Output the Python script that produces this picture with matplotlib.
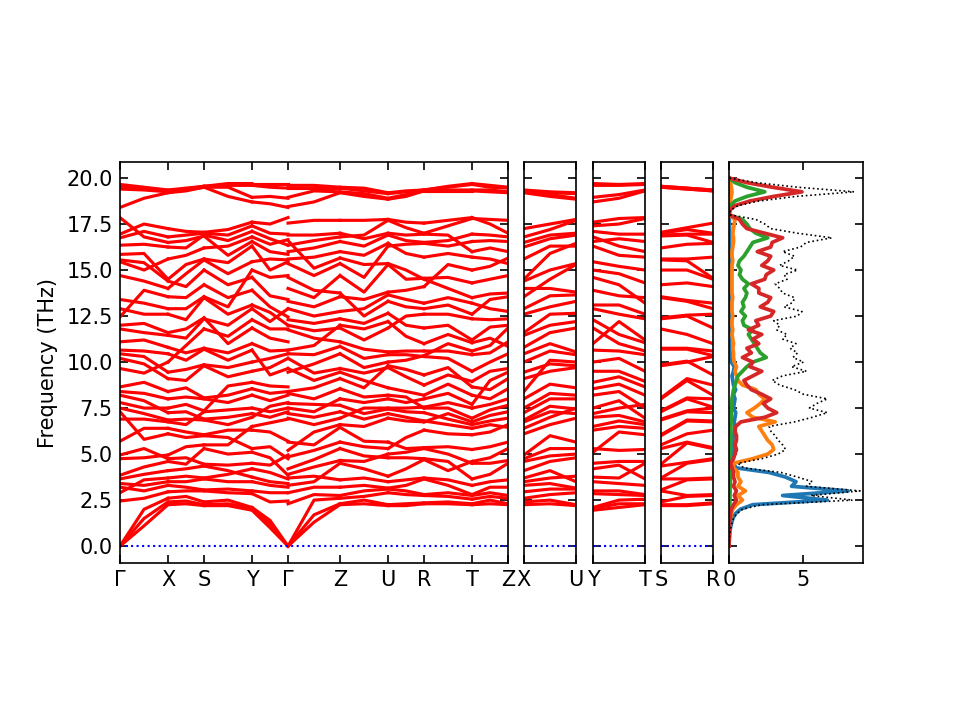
import numpy as np
import matplotlib
matplotlib.use("Agg")
import matplotlib.pyplot as plt

G_a = [0, 0, 0, 2.45, 2.9, 3.2, 3.4, 3.65, 3.85, 4.75, 4.95, 5.7, 6.9, 7.3, 7.5, 7.8, 8.2, 8.4, 8.65, 9.65,
       10.2, 10.45, 10.65, 11.1, 11.8, 12.0, 12.45, 12.9, 13.4, 14.7, 15.45, 15.55, 15.85, 16.35, 16.75, 16.95,
       17.85, 18.4, 19.4, 19.55, 19.65]
GX_m = [1.1, 1.5, 2.0, 2.6, 3.0, 3.3, 3.6, 3.9, 4.3, 4.8, 5.3, 5.8, 6.4, 6.9, 7.2, 7.5, 7.9, 8.3, 8.9, 9.4,
        9.9, 10.3, 10.6, 11.2, 11.6, 12.1, 12.6, 13.2, 13.9, 14.4, 15.0, 15.4, 15.9, 16.4, 16.8, 17.1,
        17.5, 18.9, 19.35, 19.45, 19.5]
X_pt = [2.25, 2.4, 2.6, 2.95, 3.3, 3.5, 3.7, 4.1, 4.6, 4.75, 4.95, 6.1, 6.4, 6.75, 6.85, 7.25, 7.5, 8.0, 8.4, 9.1,
        9.45, 10.0, 10.45, 10.8, 11.45, 11.6, 12.6, 12.9, 13.55, 14.0, 14.4, 14.5, 15.6, 16.25, 16.5, 16.8,
        17.25, 19.2, 19.25, 19.3, 19.35]
XS_m = [2.3, 2.45, 2.7, 3.0, 3.2, 3.5, 3.8, 4.2, 4.45, 4.8, 5.4, 5.9, 6.2, 6.6, 6.9, 7.3, 7.7, 8.1, 8.6, 9.0,
        9.6, 10.1, 10.5, 10.9, 11.3, 11.8, 12.3, 12.9, 13.5, 14.1, 14.8, 15.3, 15.8, 16.2, 16.6, 16.9,
        17.1, 19.3, 19.35, 19.4, 19.45]
S_pt = [2.2, 2.25, 2.4, 3.0, 3.05, 3.65, 3.7, 4.35, 4.45, 5.3, 5.5, 6.0, 6.05, 6.85, 6.9, 7.3, 7.35, 8.0, 8.05, 9.8,
        9.85, 10.7, 10.75, 11.8, 12.35, 12.4, 13.5, 13.55, 14.2, 15.0, 15.55, 15.6, 16.2, 16.85, 16.9, 17.0,
        17.05, 19.5, 19.5, 19.55, 19.55]
SY_m = [2.2, 2.3, 2.5, 2.9, 3.1, 3.5, 3.9, 4.1, 4.4, 5.0, 5.5, 5.9, 6.3, 6.6, 7.0, 7.4, 7.8, 8.2, 8.7, 9.2,
        9.7, 10.1, 10.5, 11.0, 11.4, 12.0, 12.6, 13.0, 13.5, 14.2, 14.8, 15.4, 15.8, 16.3, 16.6, 16.9,
        17.2, 19.0, 19.5, 19.6, 19.7]
Y_pt = [1.95, 2.05, 2.1, 2.85, 3.0, 3.5, 3.75, 4.2, 4.5, 5.1, 5.3, 6.3, 6.5, 7.0, 7.2, 7.5, 8.2, 8.55, 8.9, 9.5,
        10.0, 10.65, 11.0, 11.85, 12.3, 12.9, 13.1, 13.9, 14.6, 15.0, 15.45, 16.3, 16.55, 16.8, 17.1, 17.4,
        17.6, 18.7, 18.95, 19.6, 19.7]
YG_m = [1.0, 1.2, 1.4, 2.4, 2.9, 3.3, 3.5, 4.0, 4.4, 4.8, 5.4, 6.2, 6.7, 7.0, 7.3, 7.6, 7.9, 8.3, 8.7, 9.3,
        9.7, 10.2, 10.6, 11.3, 11.8, 12.2, 12.7, 13.0, 13.6, 14.6, 15.0, 15.6, 16.0, 16.4, 16.7, 17.0,
        17.5, 18.6, 19.0, 19.5, 19.7]
G_b = [0, 0, 0, 2.45, 2.9, 3.2, 3.4, 3.65, 3.85, 4.75, 4.95, 5.7, 6.9, 7.3, 7.5, 7.8, 8.2, 8.4, 8.65, 9.65,
       10.2, 10.45, 10.65, 11.1, 11.8, 12.0, 12.45, 12.9, 13.4, 14.7, 15.45, 15.55, 15.85, 16.35, 16.65, 16.95,
       17.85, 18.4, 18.9, 19.45, 19.7]
G_c = [0, 0, 0, 2.3, 2.9, 3.3, 3.7, 3.9, 4.2, 4.85, 5.2, 5.65, 6.95, 7.2, 7.5, 7.75, 8.3, 8.4, 9.45, 9.65,
       10.2, 10.45, 10.65, 11.75, 12.0, 12.3, 12.9, 13.3, 14.0, 14.6, 15.35, 15.6, 16.0, 16.35, 16.6, 16.9,
       17.55, 18.45, 18.95, 19.45, 19.6]
GZ_m = [1.3, 1.7, 2.5, 2.8, 3.2, 3.5, 3.8, 4.3, 4.7, 5.2, 5.5, 6.2, 6.6, 7.0, 7.3, 7.7, 8.0, 8.6, 9.0, 9.4,
        9.9, 10.4, 10.9, 11.3, 11.7, 12.1, 12.5, 13.0, 13.5, 13.9, 14.7, 15.1, 15.7, 16.2, 16.6, 16.9,
        17.7, 18.7, 19.3, 19.45, 19.6]
Z_pt = [2.25, 2.3, 2.6, 2.75, 3.2, 3.6, 4.5, 4.65, 5.3, 5.65, 6.45, 6.6, 6.95, 7.3, 7.65, 8.0, 8.55, 9.1, 9.45, 9.65,
        10.45, 10.85, 11.1, 11.85, 12.0, 12.35, 12.75, 13.55, 13.75, 14.7, 15.35, 15.65, 16.0, 16.55, 16.8, 17.0,
        17.7, 19.2, 19.25, 19.45, 19.5]
ZU_m = [2.3, 2.5, 2.7, 3.0, 3.3, 3.7, 4.2, 4.6, 4.9, 5.4, 5.7, 6.5, 6.9, 7.2, 7.5, 7.8, 8.1, 8.6, 9.0, 9.4,
        9.7, 10.2, 10.7, 11.2, 11.8, 12.1, 12.5, 12.9, 13.4, 13.8, 14.6, 15.3, 15.8, 16.3, 16.7, 16.9,
        17.7, 19.0, 19.15, 19.3, 19.45]
U_pt = [2.2, 2.25, 2.9, 3.1, 3.15, 3.5, 3.8, 4.8, 5.0, 5.3, 5.65, 6.95, 7.2, 7.45, 7.5, 8.0, 8.2, 8.6, 9.7, 9.8,
        10.0, 10.4, 10.55, 11.85, 12.2, 12.65, 13.3, 13.65, 13.8, 15.3, 15.35, 16.3, 16.45, 16.9, 17.0, 17.7,
        17.75, 18.85, 18.9, 19.15, 19.2]
UR_m = [2.2, 2.3, 2.8, 3.0, 3.3, 3.6, 4.2, 4.8, 5.1, 5.3, 5.9, 6.8, 7.0, 7.3, 7.5, 7.8, 8.1, 8.4, 9.2, 9.6,
        10.1, 10.4, 10.6, 11.4, 12.0, 12.5, 13.0, 13.4, 13.9, 14.5, 15.0, 15.9, 16.4, 16.6, 16.9, 17.3,
        17.6, 19.0, 19.1, 19.25, 19.3]
R_pt = [2.3, 2.35, 2.75, 2.8, 3.65, 3.7, 4.7, 4.75, 5.3, 5.35, 6.3, 6.75, 6.8, 7.25, 7.5, 7.55, 8.0, 8.2, 8.75, 9.3,
        10.3, 10.35, 10.6, 11.0, 11.85, 12.6, 12.9, 13.2, 14.1, 14.5, 14.55, 15.7, 16.45, 16.5, 16.95, 17.0,
        17.55, 19.3, 19.3, 19.35, 19.35]
RT_m = [2.3, 2.4, 2.7, 2.9, 3.3, 3.6, 4.1, 4.6, 5.0, 5.4, 6.1, 6.6, 6.9, 7.2, 7.5, 7.8, 8.3, 8.8, 9.3, 9.7,
        10.2, 10.6, 11.0, 11.5, 12.0, 12.6, 13.1, 13.5, 14.0, 14.6, 15.3, 15.9, 16.3, 16.6, 16.9, 17.4,
        17.7, 19.3, 19.35, 19.5, 19.55]
T_pt = [2.25, 2.3, 2.55, 2.75, 2.8, 3.3, 3.65, 4.5, 4.6, 5.25, 6.05, 6.4, 6.6, 6.75, 6.95, 7.5, 7.7, 8.2, 8.65, 8.95,
        9.5, 10.4, 10.6, 11.05, 11.2, 12.35, 12.6, 13.2, 13.5, 14.3, 15.0, 15.7, 16.0, 16.55, 16.95, 17.8,
        17.85, 19.3, 19.35, 19.65, 19.7]
TZ_m = [2.3, 2.5, 2.7, 2.9, 3.2, 3.5, 3.9, 4.5, 4.8, 5.4, 6.2, 6.6, 6.8, 7.1, 7.4, 7.7, 8.0, 8.5, 9.0, 9.5,
        10.0, 10.5, 10.9, 11.3, 11.9, 12.3, 12.9, 13.4, 13.7, 14.5, 15.2, 15.6, 16.2, 16.6, 16.9, 17.5,
        17.75, 19.25, 19.35, 19.5, 19.6]
XU_m = [2.3, 2.5, 2.8, 3.1, 3.4, 3.7, 4.1, 4.6, 4.9, 5.3, 6.0, 6.6, 7.0, 7.3, 7.6, 8.0, 8.3, 8.8, 9.5, 9.9,
        10.1, 10.6, 11.0, 11.6, 12.0, 12.6, 13.0, 13.6, 14.0, 14.5, 15.0, 15.9, 16.3, 16.7, 16.9, 17.2,
        17.5, 19.0, 19.1, 19.2, 19.25]
YT_m = [2.1, 2.3, 2.5, 2.8, 3.0, 3.4, 3.7, 4.4, 4.6, 5.2, 6.2, 6.5, 6.8, 7.1, 7.5, 7.9, 8.4, 8.8, 9.2, 9.5,
        10.2, 10.6, 11.0, 11.5, 12.2, 12.6, 13.1, 13.6, 14.2, 14.8, 15.2, 15.8, 16.3, 16.7, 16.95, 17.5,
        17.8, 18.9, 19.1, 19.6, 19.65]
SR_m = [2.2, 2.25, 2.7, 2.75, 3.6, 3.65, 4.5, 4.55, 5.6, 5.65, 6.1, 6.8, 6.85, 7.3, 7.35, 8.0, 8.05, 9.0, 9.1, 10.0,
        10.05, 10.7, 10.75, 11.5, 12.5, 12.55, 13.3, 13.35, 14.3, 15.0, 15.5, 15.6, 16.4, 16.9, 16.95, 17.2,
        17.3, 19.4, 19.4, 19.45, 19.45]

# band crossings seen in each segment: level swaps before / after the midpoint
GX_cross = ([35, 34, 26, 27, 12, 11, 4, 5], [19, 20, 30, 31, 9, 15])
XS_cross = ([21, 22, 29], [13, 14, 33, 8])
SY_cross = ([24, 23, 16, 17, 32], [10, 11, 27, 28, 6])
YG_cross = ([20, 19, 30, 13, 14], [25, 26, 8, 9, 33])
GZ_cross = ([33, 32, 31, 18, 19, 10], [22, 23, 28, 14, 5])
ZU_cross = ([27, 26, 12, 13, 34], [17, 18, 30, 7])
UR_cross = ([23, 24, 9, 31], [15, 14, 29, 20])
RT_cross = ([28, 29, 11, 12, 21], [33, 32, 18, 6, 7])
TZ_cross = ([16, 17, 26, 35], [22, 21, 10, 30])
XU_cross = ([18, 19, 28], [12, 13, 31, 5])
YT_cross = ([22, 23, 9, 32], [14, 15, 27, 6])
SR_cross = ([], [19])

# reciprocal lattice lengths (path length units)
len_a, len_b, len_c = 0.48, 0.36, 0.52

main_path = [(G_a, GX_m, X_pt, len_a, GX_cross), (X_pt, XS_m, S_pt, len_b, XS_cross),
             (S_pt, SY_m, Y_pt, len_a, SY_cross), (Y_pt, YG_m, G_b, len_b, YG_cross),
             (G_c, GZ_m, Z_pt, len_c, GZ_cross), (Z_pt, ZU_m, U_pt, len_a, ZU_cross),
             (U_pt, UR_m, R_pt, len_b, UR_cross), (R_pt, RT_m, T_pt, len_a, RT_cross),
             (T_pt, TZ_m, Z_pt, len_b, TZ_cross)]
main_labels = ["Γ", "X", "S", "Y", "Γ", "Z", "U", "R", "T", "Z"]
side_paths = [((X_pt, XU_m, U_pt, len_c, XU_cross), ["X", "U"]),
              ((Y_pt, YT_m, T_pt, len_c, YT_cross), ["Y", "T"]),
              ((S_pt, SR_m, R_pt, len_c, SR_cross), ["S", "R"])]

# projected DOS, sampled every 0.25 THz from 0 to 20
dos_freq = np.linspace(0, 20, 81)
dos_total = [0, 0.01, 0.03, 0.07, 0.12, 0.2, 0.3, 0.5, 0.9, 2.2,
             8.3, 5.5, 8.8, 5.2, 5.6, 4.6, 3.5, 1.0, 0.6, 2.2,
             3.3, 3.8, 3.6, 3.3, 3.1, 2.8, 2.7, 4.4, 5.6, 6.6,
             5.4, 5.9, 6.6, 5.0, 4.4, 3.4, 2.9, 3.6, 5.2, 4.2,
             5.0, 4.3, 4.6, 4.1, 4.5, 3.6, 3.9, 3.2, 3.4, 3.0,
             4.6, 4.9, 3.7, 4.3, 4.4, 3.6, 3.4, 3.1, 3.9, 3.7,
             4.6, 3.4, 4.0, 4.4, 3.6, 4.8, 5.2, 6.9, 4.6, 2.8,
             2.4, 1.8, 0.05, 0.1, 0.6, 2.0, 4.5, 8.4, 4.6, 1.8,
             0]
dos_blue = [0, 0.01, 0.03, 0.06, 0.1, 0.17, 0.26, 0.42, 0.75, 1.6,
            6.6, 3.6, 8.0, 4.2, 4.5, 3.8, 2.7, 0.5, 0.25, 0.2,
            0.25, 0.3, 0.3, 0.25, 0.3, 0.35, 0.4, 0.35, 0.4, 0.45,
            0.3, 0.35, 0.4, 0.3, 0.45, 0.3, 0.25, 0.2, 0.3, 0.35,
            0.15, 0.1, 0.08, 0.06, 0.05, 0.05, 0.05, 0.05, 0.05, 0.05,
            0.05, 0.05, 0.05, 0.05, 0.05, 0.05, 0.05, 0.05, 0.05, 0.05,
            0.05, 0.05, 0.05, 0.05, 0.05, 0.05, 0.05, 0.05, 0.05, 0.04,
            0.03, 0.02, 0, 0, 0.01, 0.02, 0.03, 0.04, 0.02, 0.01,
            0]
dos_orange = [0, 0.01, 0.02, 0.03, 0.05, 0.07, 0.1, 0.15, 0.25, 0.5,
              0.9, 0.6, 1.1, 0.6, 0.8, 0.6, 0.6, 0.3, 0.3, 1.6,
              2.6, 3.0, 2.9, 2.6, 2.4, 2.2, 2.0, 3.1, 1.6, 1.2,
              1.7, 2.1, 2.4, 2.0, 1.8, 0.9, 0.6, 0.5, 0.4, 0.5,
              0.35, 0.3, 0.3, 0.25, 0.3, 0.25, 0.2, 0.25, 0.2, 0.2,
              0.25, 0.2, 0.2, 0.2, 0.25, 0.2, 0.2, 0.2, 0.2, 0.2,
              0.2, 0.2, 0.25, 0.2, 0.2, 0.25, 0.3, 0.3, 0.25, 0.3,
              0.35, 0.4, 0, 0, 0.05, 0.1, 0.15, 0.2, 0.15, 0.1,
              0]
dos_green = [0, 0, 0.01, 0.01, 0.02, 0.02, 0.03, 0.03, 0.04, 0.05,
             0.06, 0.06, 0.07, 0.07, 0.08, 0.08, 0.08, 0.05, 0.05, 0.08,
             0.1, 0.1, 0.1, 0.12, 0.12, 0.12, 0.13, 0.14, 0.15, 0.15,
             0.15, 0.18, 0.2, 0.25, 0.3, 0.4, 0.5, 0.6, 0.9, 1.2,
             1.6, 2.5, 2.1, 1.9, 1.7, 1.5, 1.3, 1.6, 1.0, 0.9,
             1.1, 0.8, 1.0, 0.9, 1.1, 1.2, 1.0, 1.3, 0.9, 0.7,
             0.8, 0.6, 0.7, 1.0, 1.2, 1.4, 1.6, 2.6, 1.8, 1.4,
             1.2, 0.9, 0.02, 0.03, 0.1, 0.4, 1.2, 2.4, 1.2, 0.4,
             0]
dos_red = [0, 0.005, 0.01, 0.02, 0.03, 0.05, 0.07, 0.1, 0.15, 0.3,
           0.5, 0.35, 0.5, 0.3, 0.4, 0.3, 0.3, 0.2, 0.1, 0.3,
           0.4, 0.5, 0.4, 0.5, 0.5, 0.4, 0.45, 0.8, 2.4, 3.2,
           2.6, 2.3, 2.8, 2.2, 1.5, 1.2, 1.0, 1.6, 2.2, 1.4,
           1.6, 0.9, 1.5, 1.2, 2.0, 1.6, 2.2, 1.3, 2.0, 1.8,
           2.8, 3.0, 2.1, 2.6, 2.8, 2.0, 2.0, 1.5, 2.4, 2.5,
           3.0, 2.2, 2.6, 2.8, 1.9, 2.8, 2.9, 3.6, 2.4, 1.2,
           0.9, 0.7, 0.02, 0.05, 0.4, 1.4, 3.0, 4.9, 2.9, 1.2,
           0]

ylim = (-0.92, 20.87)
yticks = np.arange(0, 20.1, 2.5)


def level_after_swaps(n, swaps):
    # which level each band sits on after the listed neighbour swaps
    at = list(range(n))
    for i in swaps:
        at[i], at[i + 1] = at[i + 1], at[i]
    return np.argsort(at)


def draw_segments(ax, segments):
    x0 = 0.0
    ticks = [0.0]
    for start, mid, end, length, (cross_in, cross_out) in segments:
        start, mid, end = np.sort(start), np.sort(mid), np.sort(end)
        n = len(start)
        lvl_mid = level_after_swaps(n, cross_in)
        lvl_end = level_after_swaps(n, cross_out)[lvl_mid]
        ys = np.vstack([start, mid[lvl_mid], end[lvl_end]])
        ax.plot([x0, x0 + length / 2, x0 + length], ys, color="r", lw=1.5)
        x0 += length
        ticks.append(x0)
    ax.axhline(0, color="b", ls=":", lw=1)
    ax.set_xlim(0, x0)
    ax.set_ylim(*ylim)
    ax.set_yticks(yticks)
    return ticks


def style(ax):
    ax.tick_params(direction="in", top=True, right=True, length=4)


fig = plt.figure(figsize=(6.4, 4.8), dpi=150)
bot, h = 0.218, 0.557

ax_main = fig.add_axes([0.125, bot, 0.4042, h])
ticks = draw_segments(ax_main, main_path)
ax_main.set_xticks(ticks)
ax_main.set_xticklabels(main_labels)
ax_main.set_ylabel("Frequency (THz)")
style(ax_main)

side_left = [0.5458, 0.6177, 0.6885]
for left, (seg, labels) in zip(side_left, side_paths):
    ax = fig.add_axes([left, bot, 0.0542, h])
    ticks = draw_segments(ax, [seg])
    ax.set_xticks(ticks)
    ax.set_xticklabels(labels)
    ax.set_yticklabels([])
    style(ax)

ax_dos = fig.add_axes([0.7594, bot, 0.1396, h])
ax_dos.plot(dos_blue, dos_freq, color="tab:blue", lw=1.8)
ax_dos.plot(dos_orange, dos_freq, color="tab:orange", lw=1.8)
ax_dos.plot(dos_green, dos_freq, color="tab:green", lw=1.8)
ax_dos.plot(dos_red, dos_freq, color="tab:red", lw=1.8)
ax_dos.plot(dos_total, dos_freq, color="k", ls=":", lw=0.8)
ax_dos.set_xlim(0, 9)
ax_dos.set_ylim(*ylim)
ax_dos.set_yticks(yticks)
ax_dos.set_yticklabels([])
ax_dos.set_xticks([0, 5])
style(ax_dos)

fig.savefig("out.png", dpi=150)
